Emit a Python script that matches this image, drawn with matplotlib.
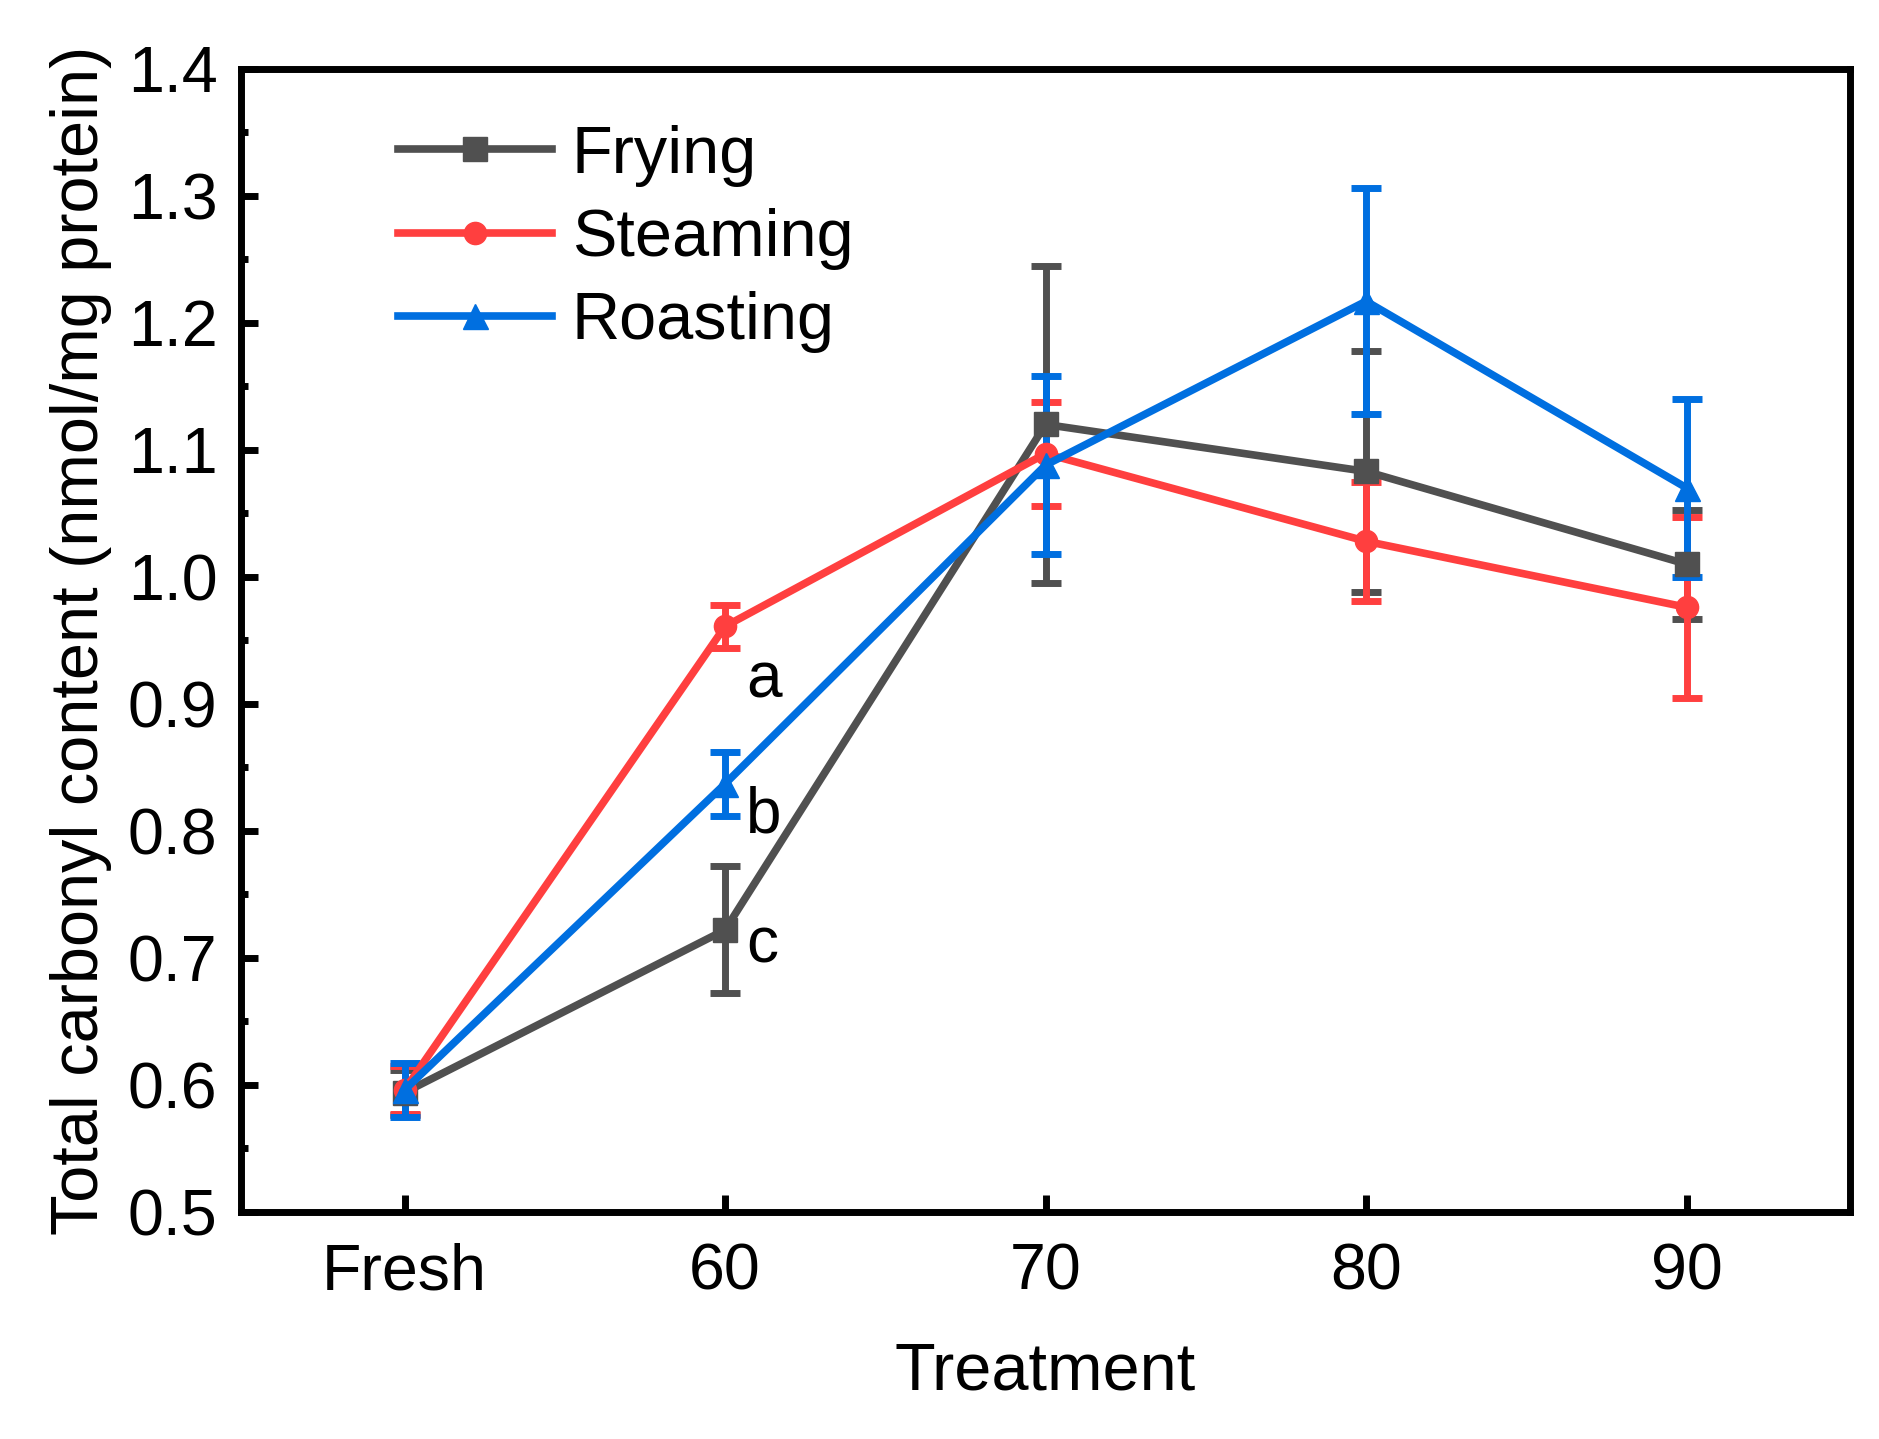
import numpy as np
import matplotlib
matplotlib.use("Agg")
import matplotlib.pyplot as plt
from matplotlib.ticker import MultipleLocator

plt.rcParams['font.family'] = ['Liberation Sans', 'DejaVu Sans']

# categories and series
treatments = ['Fresh', '60', '70', '80', '90']
frying = [0.594, 0.722, 1.120, 1.083, 1.010]
frying_err = [0.018, 0.050, 0.125, 0.095, 0.043]
steaming = [0.596, 0.961, 1.097, 1.028, 0.976]
steaming_err = [0.019, 0.017, 0.041, 0.047, 0.071]
roasting = [0.596, 0.837, 1.088, 1.217, 1.070]
roasting_err = [0.021, 0.025, 0.070, 0.089, 0.070]

letters = ['a', 'b', 'c']
letter_y = [0.905, 0.799, 0.696]

colors = {'Frying': '#505050', 'Steaming': '#FF3F3F', 'Roasting': '#006FE0'}

fig = plt.figure(figsize=(18.79, 14.39), dpi=100)
ax = fig.add_axes([0.1283, 0.1578, 0.8563, 0.7944])

x = np.arange(len(treatments))
series = [('Frying', frying, frying_err, 's', 17),
          ('Steaming', steaming, steaming_err, 'o', 16),
          ('Roasting', roasting, roasting_err, '^', 18)]

handles = []
for name, vals, err, mk, ms in series:
    eb = ax.errorbar(x, vals, yerr=err, color=colors[name], marker=mk, markersize=ms,
                     lw=5.5, elinewidth=5, capsize=11, capthick=5, label=name)
    handles.append(eb[0])

# significance letters at 60
for t, yy in zip(letters, letter_y):
    ax.text(1.065, yy, t, fontsize=46, va='baseline', ha='left')

ax.set_xlim(-0.51, 4.51)
ax.set_ylim(0.5, 1.4)
ax.set_xticks(x)
ax.set_xticklabels(treatments)
ax.yaxis.set_major_locator(MultipleLocator(0.1))
ax.yaxis.set_minor_locator(MultipleLocator(0.05))
ax.yaxis.set_major_formatter(matplotlib.ticker.FormatStrFormatter('%.1f'))

for s in ax.spines.values():
    s.set_linewidth(5)
ax.tick_params(axis='both', which='major', direction='in', length=12, width=5,
               labelsize=46.5, top=False, right=False)
ax.tick_params(axis='y', which='major', pad=17)
ax.tick_params(axis='x', which='major', pad=22)
ax.tick_params(axis='y', which='minor', direction='in', length=5, width=5)

ax.set_xlabel('Treatment', fontsize=48)
ax.set_ylabel('Total carbonyl content (nmol/mg protein)', fontsize=48)
ax.xaxis.set_label_coords(0.5, -0.113)
ax.yaxis.set_label_coords(-0.08, 0.5)

ax.legend(handles, [s[0] for s in series], loc='upper left',
          bbox_to_anchor=(0.0977, 0.951), frameon=False,
          fontsize=48, handlelength=2.3, handletextpad=0.3, labelspacing=0.32,
          borderpad=0, borderaxespad=0)

plt.savefig('out.png', dpi=100)
